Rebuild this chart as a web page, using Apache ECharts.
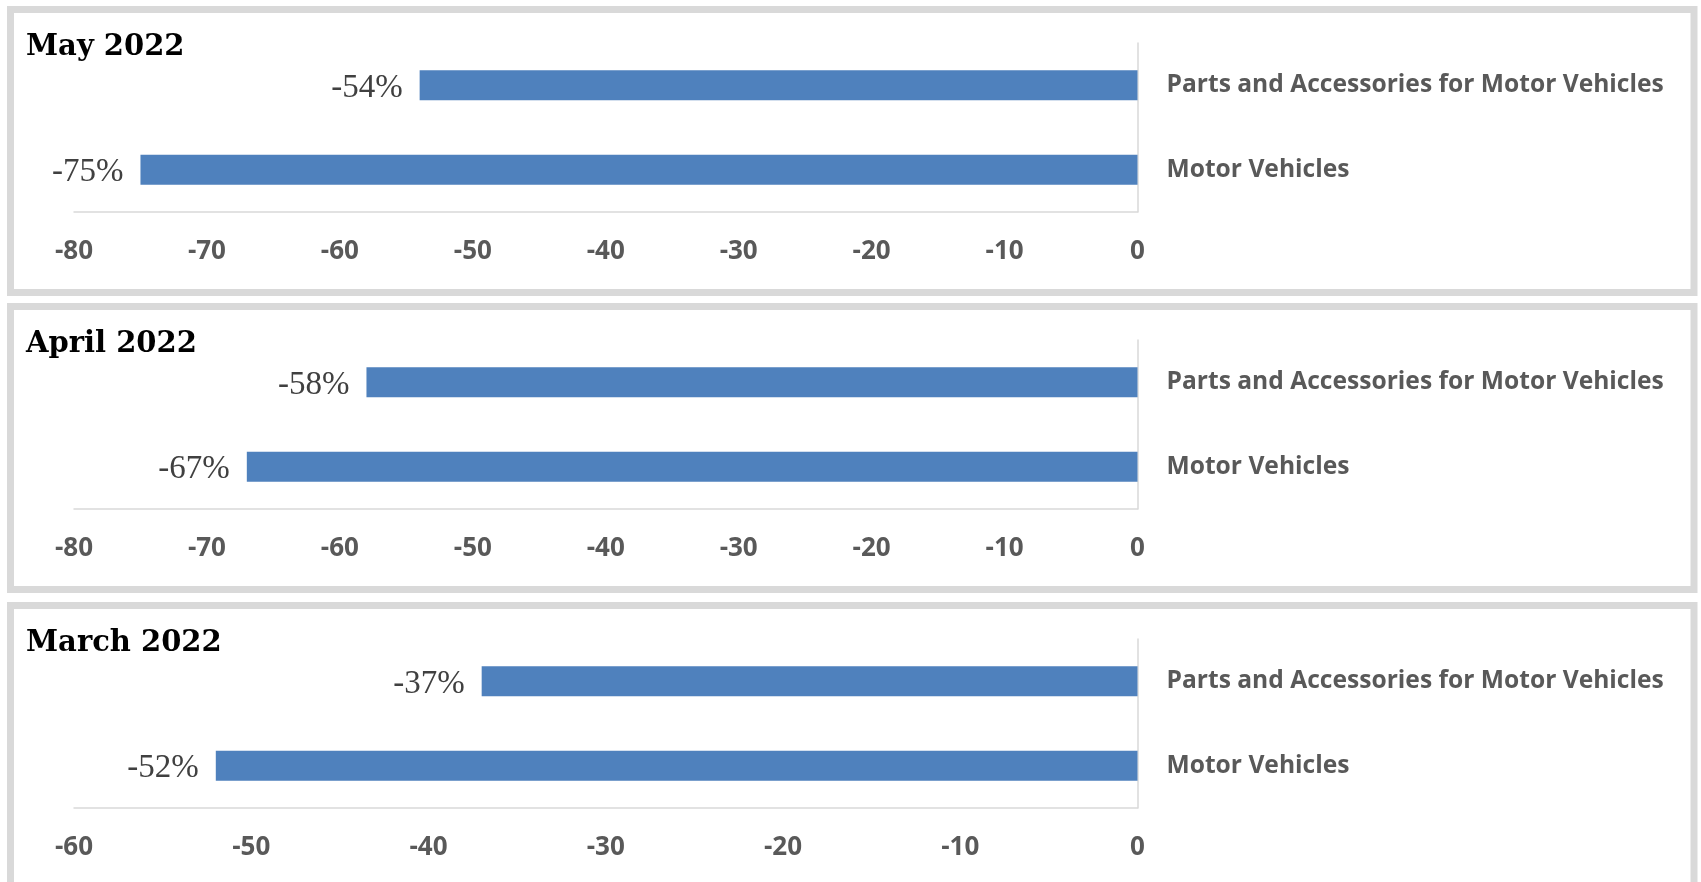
<!DOCTYPE html>
<html>
<head>
<meta charset="utf-8">
<title>Motor vehicles, year-on-year change</title>
<script src="https://cdn.jsdelivr.net/npm/echarts@6/dist/echarts.min.js"></script>
<style>
  html, body {
    margin: 0;
    padding: 0;
    background: #fff;
  }
  #chart {
    width: 1701px;
    height: 882px;
  }
</style>
</head>
<body>
<div id="chart"></div>
<script>
const categories = ['Parts and Accessories for Motor Vehicles', 'Motor Vehicles']
const panelTitles = ['May 2022', 'April 2022', 'March 2022']
const mayValues = [-54, -75]
const aprilValues = [-58, -67]
const marchValues = [-37, -52]
const axisMins = [-80, -80, -60]
const axisMax = 0
const tickStep = 10

const panelValues = [mayValues, aprilValues, marchValues]
// top edge of each framed panel
const panelTops = [6, 303, 602]

const chart = echarts.init(document.getElementById('chart'))

const titles = []
const grids = []
const xAxes = []
const yAxes = []
const series = []
const frames = []

panelTops.forEach((top, i) => {
  frames.push({
    type: 'rect',
    shape: { x: 10.5, y: top + 3.5, width: 1683.5, height: 283 },
    style: { fill: 'none', stroke: '#d9d9d9', lineWidth: 7 },
    silent: true
  })
  titles.push({
    text: panelTitles[i],
    left: 26,
    top: top + 27,
    padding: 0,
    textStyle: {
      fontFamily: 'DejaVu Serif',
      fontWeight: 'bold',
      fontSize: 29,
      color: '#000'
    }
  })
  grids.push({
    left: 74,
    right: 563.5,
    top: top + 37,
    height: 169
  })
  xAxes.push({
    type: 'value',
    gridIndex: i,
    min: axisMins[i],
    max: axisMax,
    interval: tickStep,
    splitLine: { show: false },
    axisTick: { show: false },
    axisLine: { show: true, lineStyle: { color: '#d9d9d9', width: 1.5 } },
    axisLabel: {
      margin: 27,
      color: '#595959',
      fontFamily: 'Open Sans',
      fontWeight: 'bold',
      fontSize: 26
    }
  })
  yAxes.push({
    type: 'category',
    gridIndex: i,
    position: 'right',
    inverse: true,
    data: categories,
    axisTick: { show: false },
    axisLine: { show: true, lineStyle: { color: '#d9d9d9', width: 1.5 } },
    axisLabel: {
      margin: 29,
      color: '#595959',
      fontFamily: 'Open Sans',
      fontWeight: 'bold',
      fontSize: 24.6,
      padding: [3, 0, 0, 0]
    }
  })
  series.push({
    type: 'bar',
    xAxisIndex: i,
    yAxisIndex: i,
    data: panelValues[i],
    barWidth: 30,
    itemStyle: { color: '#4f81bd' },
    label: {
      show: true,
      position: 'left',
      distance: 17,
      offset: [0, 3],
      formatter: '{c}%',
      color: '#404040',
      fontFamily: 'Liberation Serif',
      fontSize: 33
    }
  })
})

const option = {
  animation: false,
  backgroundColor: '#fff',
  title: titles,
  grid: grids,
  xAxis: xAxes,
  yAxis: yAxes,
  series: series,
  graphic: frames
}

chart.setOption(option)
</script>
</body>
</html>
